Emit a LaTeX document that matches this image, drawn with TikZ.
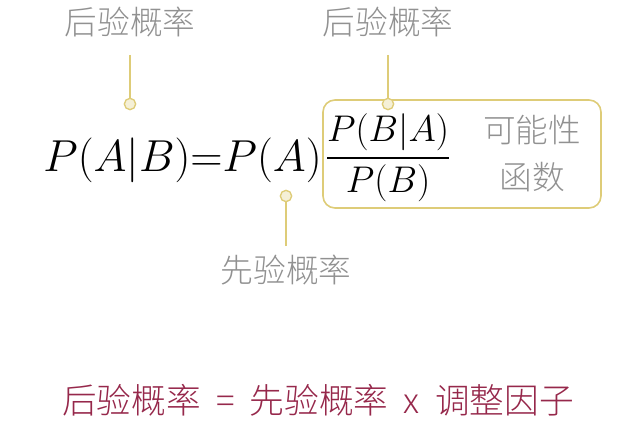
\documentclass[tikz,border=0pt]{standalone}
\usepackage{amsmath}
\usepackage{fontspec}
\newfontfamily\cjk{Noto Sans CJK SC Light}
\begin{document}
\definecolor{pinline}{RGB}{222,204,120}
\definecolor{labelgray}{RGB}{145,145,145}
\definecolor{summaryred}{RGB}{150,40,75}
\begin{tikzpicture}[x=0.75pt,y=0.75pt,yscale=-1,xscale=1,
  lbl/.style={text=labelgray,font=\cjk\fontsize{24.5}{28}\selectfont},
  pin/.style={circle,draw=pinline,fill=pinline!30,line width=1pt,inner sep=0pt,minimum size=8.5pt},
  formula/.style={inner sep=0pt,font=\fontsize{33}{38}\selectfont}]
\useasboundingbox (0,0) rectangle (624,442);
%Box
\draw [pinline,line width=1.2pt,rounded corners=9] (323,100) rectangle (601,208);
%Formula
\node [formula,anchor=east,scale=1.35] (lhs) at (322,160) {$P(A|B){=}P(A)$};
\node [formula,scale=1.12] (frac) at (388,158) {$\dfrac{P(B|A)}{P(B)}$};
\node [lbl] (likel) at (532,130) {可能性};
\node [lbl] (likel2) at (532,177) {函数};
%Pins
\node [pin] (p1) at (130,104) {};
\node [pin] (p2) at (388,104) {};
\node [pin] (p3) at (286,196) {};
\node [lbl] (post1) at (130,22) {后验概率};
\node [lbl] (post2) at (388,22) {后验概率};
\node [lbl] (prior) at (286,270) {先验概率};
\coordinate (t1) at (130,55);
\coordinate (t2) at (388,55);
\coordinate (t3) at (286,246);
\draw [pinline,line width=1pt] (t1) -- (p1);
\draw [pinline,line width=1pt] (t2) -- (p2);
\draw [pinline,line width=1pt] (t3) -- (p3);
%Summary
\node [text=summaryred,font=\cjk\fontsize{26}{30}\selectfont] (summary) at (318,400) {后验概率 \ = \ 先验概率 \ x \ 调整因子};
\end{tikzpicture}
\end{document}
